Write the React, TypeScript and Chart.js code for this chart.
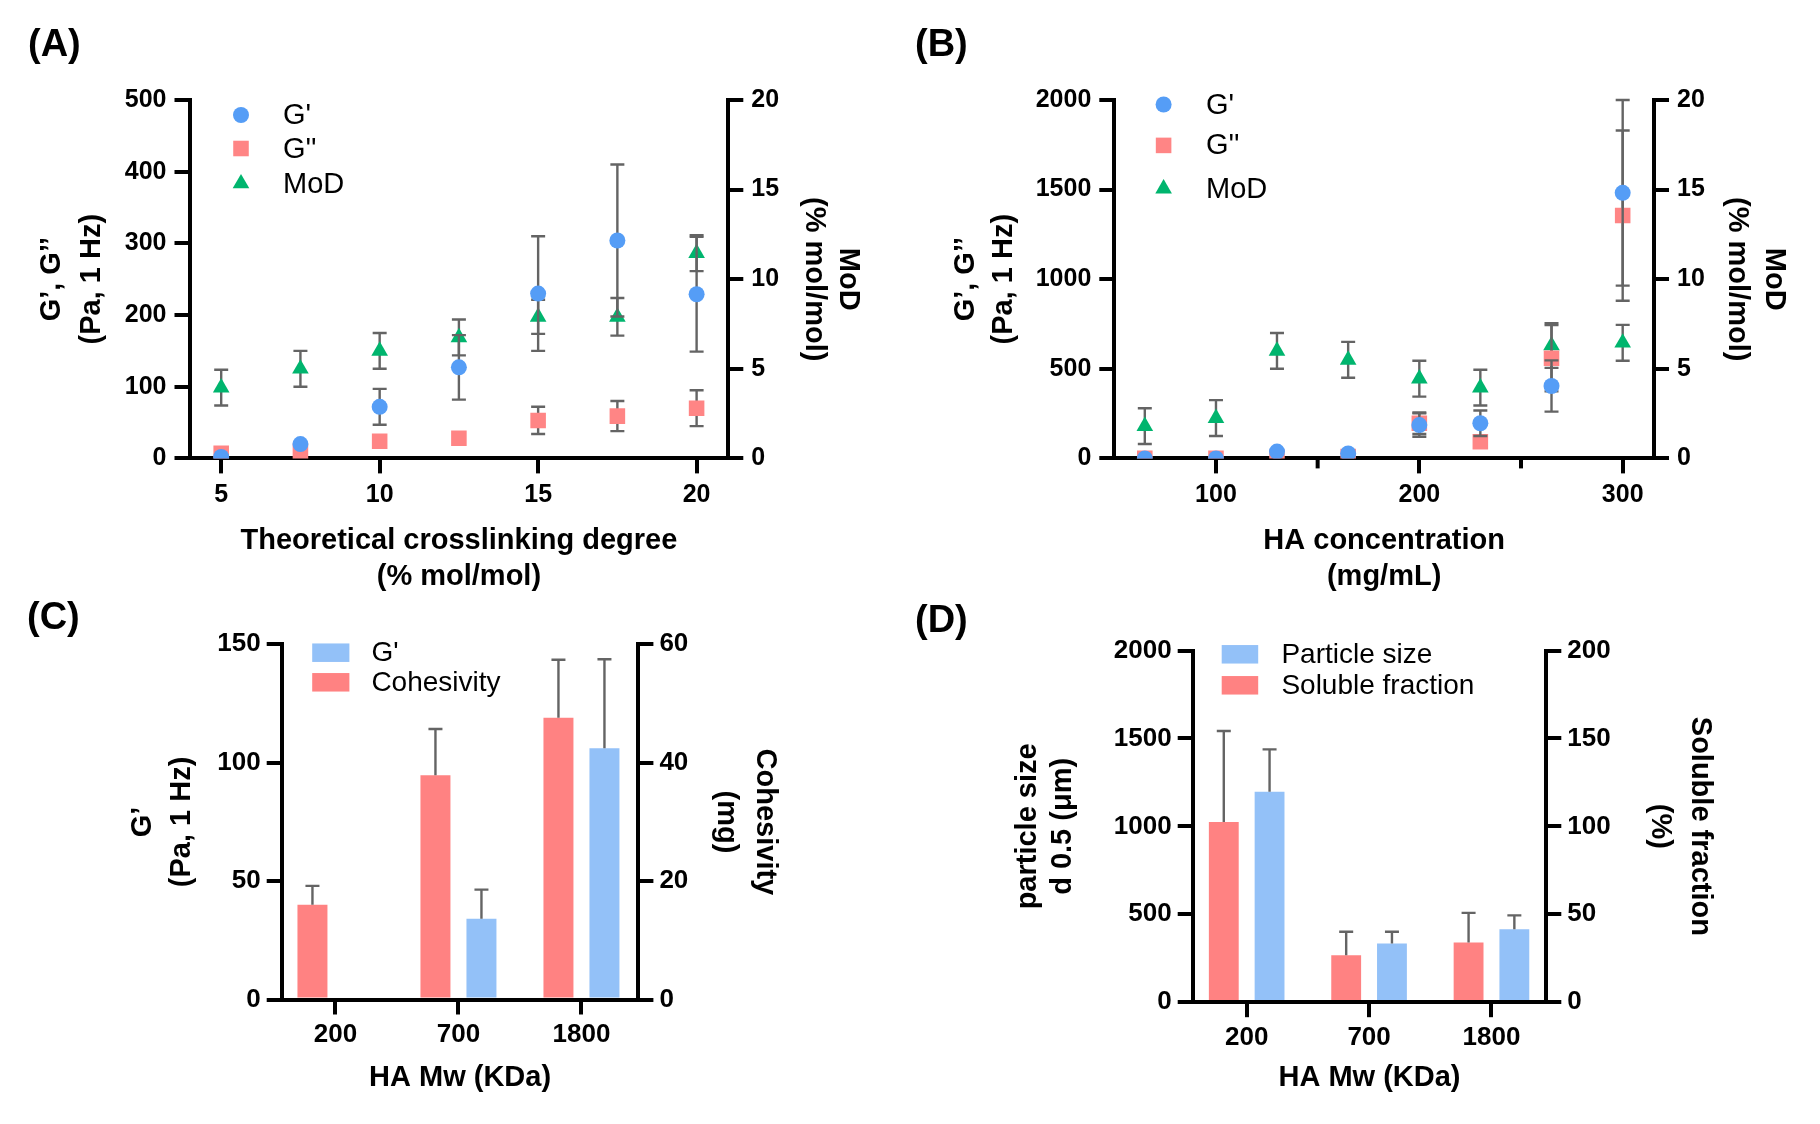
import React, { useEffect, useRef } from 'react';
import { Chart, registerables } from 'chart.js';

Chart.register(...registerables);

const FONT = "'Liberation Sans', Arial, Helvetica, sans-serif";
Chart.defaults.font.family = FONT;

// ---------------- Panel A data ----------------
const aCrosslink = [5, 7.5, 10, 12.5, 15, 17.5, 20];
const aXTicks = [5, 10, 15, 20];
const aGPrime = [2, 20, 72, 127, 230, 304, 229];
const aGPrimeSD = [0, 0, 25, 45, 80, 106, 80];
const aGDouble = [7, 10, 24, 28, 53, 59, 70];
const aGDoubleSD = [0, 0, 0, 0, 19, 21, 25];
const aMoD = [3.95, 5.0, 6.0, 6.75, 7.9, 7.9, 11.45];
const aMoDSD = [1.0, 1.0, 1.0, 1.0, 0.95, 1.05, 1.0];

// ---------------- Panel B data ----------------
const bConc = [65, 100, 130, 165, 200, 230, 265, 300];
const bXTicks = [100, 200, 300];
const bXMinorTicks = [150, 250];
const bGPrime = [0, 0, 38, 28, 186, 196, 404, 1482];
const bGPrimeSD = [0, 0, 0, 0, 65, 71, 143, 518];
const bGDouble = [0, 0, 6, 10, 196, 93, 559, 1355];
const bGDoubleSD = [0, 0, 0, 0, 60, 0, 185, 475];
const bMoD = [1.8, 2.25, 6.0, 5.5, 4.45, 3.95, 6.3, 6.45];
const bMoDSD = [1.0, 1.0, 1.0, 1.0, 1.0, 1.0, 1.25, 1.0];

// ---------------- Panel C data ----------------
const mwLabels = ['200', '700', '1800'];
const cCohesivity = [16.0, 37.9, 47.6];
const cCohesivitySD = [3.2, 7.8, 9.8];
const cGPrime = [0, 34.1, 106.1];
const cGPrimeSD = [0, 12.3, 37.6];

// ---------------- Panel D data ----------------
const dSoluble = [102.5, 26.7, 34.0];
const dSolubleSD = [51.7, 13.4, 16.8];
const dParticle = [1197, 334, 415];
const dParticleSD = [241, 67, 79];

// ---------------- colours ----------------
const BLUE_PT = '#559DF6';
const RED_PT = '#FF8585';
const GREEN_PT = '#00B56E';
const BLUE_BAR = '#93C1F8';
const RED_BAR = '#FF8282';
const ERR = '#646464';

const pts = (xs: number[], ys: number[]) => xs.map((x, i) => ({ x, y: ys[i] }));
const catPts = (ys: number[]) => ys.map((y, i) => ({ x: i, y }));

function drawErr(chart: any, meta: any, ds: any, both: boolean) {
  const ctx = chart.ctx;
  const yScale = chart.scales[meta.yAxisID];
  const cap = 7;
  ctx.save();
  ctx.strokeStyle = ERR;
  ctx.lineWidth = 2.4;
  meta.data.forEach((el: any, i: number) => {
    const v = ds.data[i].y;
    const e = ds.sd[i];
    if (e == null) return;
    if (both && !(e > 0)) return;
    const x = el.x;
    const yTop = yScale.getPixelForValue(v + e);
    const yBot = both ? yScale.getPixelForValue(v - e) : yScale.getPixelForValue(v);
    ctx.beginPath();
    ctx.moveTo(x, yTop);
    ctx.lineTo(x, yBot);
    ctx.moveTo(x - cap, yTop);
    ctx.lineTo(x + cap, yTop);
    if (both) {
      ctx.moveTo(x - cap, yBot);
      ctx.lineTo(x + cap, yBot);
    }
    ctx.stroke();
  });
  ctx.restore();
}

const errorBarPlugin = {
  id: 'errorBars',
  beforeDatasetDraw(chart: any, args: any) {
    const ds: any = chart.data.datasets[args.index];
    if (!ds.sd || ds.sdMode !== 'both') return;
    drawErr(chart, args.meta, ds, true);
  },
  afterDatasetDraw(chart: any, args: any) {
    const ds: any = chart.data.datasets[args.index];
    if (!ds.sd || ds.sdMode !== 'up') return;
    drawErr(chart, args.meta, ds, false);
  },
};
Chart.register(errorBarPlugin as any);

function drawMarker(ctx: any, style: string, x: number, y: number, r: number, color: string) {
  ctx.fillStyle = color;
  ctx.beginPath();
  if (style === 'circle') {
    ctx.arc(x, y, r, 0, Math.PI * 2);
  } else if (style === 'rect') {
    const s = r * Math.SQRT1_2;
    ctx.rect(x - s, y - s, 2 * s, 2 * s);
  } else {
    ctx.moveTo(x, y - r);
    ctx.lineTo(x + r * Math.sin((2 * Math.PI) / 3), y - r * Math.cos((2 * Math.PI) / 3));
    ctx.lineTo(x + r * Math.sin((4 * Math.PI) / 3), y - r * Math.cos((4 * Math.PI) / 3));
    ctx.closePath();
  }
  ctx.fill();
}

function makeLegend(cfg: any) {
  return {
    id: 'panelLegend',
    afterDraw(chart: any) {
      const ctx = chart.ctx;
      ctx.save();
      cfg.order.forEach((dsIdx: number, k: number) => {
        const ds: any = chart.data.datasets[dsIdx];
        const y = cfg.rows[k];
        if (cfg.kind === 'marker') {
          drawMarker(ctx, ds.pointStyle, cfg.x, y, ds.pointRadius, ds.backgroundColor);
        } else {
          ctx.fillStyle = ds.backgroundColor;
          ctx.fillRect(cfg.x, y - cfg.boxH / 2, cfg.boxW, cfg.boxH);
        }
        ctx.fillStyle = '#000';
        ctx.font = `${cfg.size}px ${FONT}`;
        ctx.textBaseline = 'middle';
        ctx.textAlign = 'left';
        ctx.fillText(ds.label, cfg.textX, y + 1);
      });
      ctx.restore();
    },
  };
}

function makeMinorTicks(values: number[], len: number) {
  return {
    id: 'minorTicks',
    afterDraw(chart: any) {
      const sx = chart.scales.x;
      const ctx = chart.ctx;
      ctx.save();
      ctx.strokeStyle = '#000';
      ctx.lineWidth = 4;
      values.forEach((v) => {
        const x = sx.getPixelForValue(v);
        ctx.beginPath();
        ctx.moveTo(x, chart.chartArea.bottom);
        ctx.lineTo(x, chart.chartArea.bottom + len);
        ctx.stroke();
      });
      ctx.restore();
    },
  };
}

function linAxis(o: any) {
  const axis: any = {
    type: 'linear',
    position: o.position,
    min: o.min,
    max: o.max,
    offset: false,
    afterFit: (s: any) => {
      if (o.position === 'bottom') s.height = o.size;
      else s.width = o.size;
    },
    border: { display: true, color: '#000', width: 4, z: o.borderZ || 0 },
    grid: {
      display: true,
      drawOnChartArea: false,
      drawTicks: true,
      tickLength: 15,
      lineWidth: 4,
      tickWidth: 4,
      color: '#000',
      tickColor: '#000',
      offset: false,
    },
    ticks: {
      color: '#000',
      padding: o.pad,
      autoSkip: false,
      maxRotation: 0,
      minRotation: 0,
      font: { family: FONT, size: o.fontSize, weight: 'bold' },
      callback: o.callback || ((v: any) => String(v)),
    },
    title: {
      display: true,
      text: o.title,
      color: '#000',
      font: { family: FONT, size: 29, weight: 'bold', lineHeight: o.lh + 'px' },
      padding: o.position === 'bottom' ? { top: 0, bottom: o.tp } : { top: o.tp, bottom: 0 },
    },
  };
  if (o.step) axis.ticks.stepSize = o.step;
  if (o.tickValues) {
    axis.afterBuildTicks = (ax: any) => {
      ax.ticks = o.tickValues.map((v: number) => ({ value: v }));
    };
  }
  return axis;
}

const baseOptions = (padTop: number) => ({
  responsive: false,
  animation: false,
  events: [],
  layout: { padding: { top: padTop, left: 0, right: 0, bottom: 0 } },
  plugins: { legend: { display: false }, tooltip: { enabled: false } },
});

function scatterSet(label: string, xs: number[], ys: number[], sd: number[], axis: string, style: string, r: number, color: string) {
  return {
    label,
    data: pts(xs, ys),
    sd,
    sdMode: 'both',
    yAxisID: axis,
    pointStyle: style,
    pointRadius: r,
    pointBorderWidth: 0,
    backgroundColor: color,
    borderColor: color,
    borderWidth: 0,
    showLine: false,
  };
}

const R_CIRCLE = 8;
const R_RECT = 11;
const R_TRI = 9.6;

function buildA() {
  return {
    type: 'scatter',
    data: {
      datasets: [
        scatterSet("G'", aCrosslink, aGPrime, aGPrimeSD, 'y', 'circle', R_CIRCLE, BLUE_PT),
        scatterSet("G''", aCrosslink, aGDouble, aGDoubleSD, 'y', 'rect', R_RECT, RED_PT),
        scatterSet('MoD', aCrosslink, aMoD, aMoDSD, 'y1', 'triangle', R_TRI, GREEN_PT),
      ],
    },
    options: {
      ...baseOptions(100),
      scales: {
        x: linAxis({ position: 'bottom', min: 4, max: 21, size: 141.6, tickValues: aXTicks, pad: 7, fontSize: 25, title: ['Theoretical crosslinking degree', '(% mol/mol)'], lh: 36, tp: 5 }),
        y: linAxis({ position: 'left', min: 0, max: 500, step: 100, size: 189.5, pad: 8, fontSize: 25, title: ['G\u2019, G\u2019\u2019', '(Pa, 1 Hz)'], lh: 40, tp: 32.4 }),
        y1: linAxis({ position: 'right', min: 0, max: 20, step: 5, size: 181.7, pad: 8, fontSize: 25, title: ['MoD', '(% mol/mol)'], lh: 34, tp: 45.4 }),
      },
    },
    plugins: [makeLegend({ kind: 'marker', order: [0, 1, 2], x: 241, rows: [115, 148.5, 183.5], textX: 283, size: 29 })],
  };
}

function buildB() {
  return {
    type: 'scatter',
    data: {
      datasets: [
        scatterSet("G'", bConc, bGPrime, bGPrimeSD, 'y', 'circle', R_CIRCLE, BLUE_PT),
        scatterSet("G''", bConc, bGDouble, bGDoubleSD, 'y', 'rect', R_RECT, RED_PT),
        scatterSet('MoD', bConc, bMoD, bMoDSD, 'y1', 'triangle', R_TRI, GREEN_PT),
      ],
    },
    options: {
      ...baseOptions(100),
      scales: {
        x: linAxis({ position: 'bottom', min: 50, max: 315.4, size: 141.6, tickValues: bXTicks, pad: 7, fontSize: 25, title: ['HA concentration', '(mg/mL)'], lh: 36, tp: 5 }),
        y: linAxis({ position: 'left', min: 0, max: 2000, step: 500, size: 204.3, pad: 8, fontSize: 25, title: ['G\u2019, G\u2019\u2019', '(Pa, 1 Hz)'], lh: 38, tp: 37 }),
        y1: linAxis({ position: 'right', min: 0, max: 20, step: 5, size: 166, pad: 8, fontSize: 25, title: ['MoD', '(% mol/mol)'], lh: 37, tp: 27.5 }),
      },
    },
    plugins: [
      makeLegend({ kind: 'marker', order: [0, 1, 2], x: 253.6, rows: [104.5, 145.4, 188.7], textX: 296, size: 29 }),
      makeMinorTicks(bXMinorTicks, 10),
    ],
  };
}

function barSet(label: string, ys: number[], sd: number[], axis: string, color: string) {
  return {
    label,
    data: catPts(ys),
    sd,
    sdMode: 'up',
    yAxisID: axis,
    xAxisID: 'x',
    backgroundColor: color,
    borderWidth: 0,
    categoryPercentage: 0.748,
    barPercentage: 0.652,
  };
}

const catCallback = (v: any) => (mwLabels[v] !== undefined ? mwLabels[v] : '');
const catTicks = mwLabels.map((_, i) => i);

function buildC() {
  return {
    type: 'bar',
    data: {
      datasets: [
        barSet('Cohesivity', cCohesivity, cCohesivitySD, 'y1', RED_BAR),
        barSet("G'", cGPrime, cGPrimeSD, 'y', BLUE_BAR),
      ],
    },
    options: {
      ...baseOptions(44.3),
      scales: {
        x: linAxis({ position: 'bottom', min: -0.437, max: 2.463, size: 124.5, tickValues: catTicks, callback: catCallback, pad: 5, fontSize: 26, title: 'HA Mw (KDa)', lh: 36, tp: 28, borderZ: 1 }),
        y: linAxis({ position: 'left', min: 0, max: 150, step: 50, size: 281.7, pad: 6, fontSize: 26, title: ['G\u2019', '(Pa, 1 Hz)'], lh: 39, tp: 123, borderZ: 1 }),
        y1: linAxis({ position: 'right', min: 0, max: 60, step: 20, size: 271.6, pad: 6, fontSize: 26, title: ['Cohesivity', '(mg)'], lh: 38.6, tp: 126, borderZ: 1 }),
      },
    },
    plugins: [makeLegend({ kind: 'box', order: [1, 0], x: 312.2, rows: [52.7, 82.3], boxW: 37.2, boxH: 18.5, textX: 371.4, size: 28 })],
  };
}

function buildD() {
  return {
    type: 'bar',
    data: {
      datasets: [
        barSet('Soluble fraction', dSoluble, dSolubleSD, 'y1', RED_BAR),
        barSet('Particle size', dParticle, dParticleSD, 'y', BLUE_BAR),
      ],
    },
    options: {
      ...baseOptions(50.5),
      scales: {
        x: linAxis({ position: 'bottom', min: -0.441, max: 2.448, size: 121.8, tickValues: catTicks, callback: catCallback, pad: 5, fontSize: 26, title: 'HA Mw (KDa)', lh: 36, tp: 28, borderZ: 1 }),
        y: linAxis({ position: 'left', min: 0, max: 2000, step: 500, size: 282.7, pad: 6, fontSize: 26, title: ['particle size', 'd 0.5 (\u03BCm)'], lh: 35, tp: 100.8, borderZ: 1 }),
        y1: linAxis({ position: 'right', min: 0, max: 200, step: 50, size: 273.7, pad: 6, fontSize: 26, title: ['Soluble fraction', '(%)'], lh: 40, tp: 100, borderZ: 1 }),
      },
    },
    plugins: [makeLegend({ kind: 'box', order: [1, 0], x: 311.7, rows: [54.3, 85.3], boxW: 36.5, boxH: 18.5, textX: 371.4, size: 28 })],
  };
}

function ChartPanel({ left, top, width, height, build }: { left: number; top: number; width: number; height: number; build: () => any }) {
  const ref = useRef<HTMLCanvasElement>(null);
  useEffect(() => {
    if (!ref.current) return;
    const chart = new Chart(ref.current, build());
    return () => chart.destroy();
  }, []);
  return (
    <canvas
      ref={ref}
      width={width}
      height={height}
      style={{ position: 'absolute', left, top, width, height, display: 'block' }}
    />
  );
}

const labelStyle = (left: number, top: number): React.CSSProperties => ({
  position: 'absolute',
  left,
  top,
  font: `bold 38px ${FONT}`,
  lineHeight: 1,
  color: '#000',
});

export default function App() {
  return (
    <div style={{ position: 'fixed', left: 0, top: 0, width: 1820, height: 1124, background: '#fff', overflow: 'hidden' }}>
      <ChartPanel left={0} top={0} width={910} height={600} build={buildA} />
      <ChartPanel left={910} top={0} width={910} height={600} build={buildB} />
      <ChartPanel left={0} top={600} width={910} height={524} build={buildC} />
      <ChartPanel left={910} top={600} width={910} height={524} build={buildD} />
      <div style={labelStyle(28, 24)}>(A)</div>
      <div style={labelStyle(915, 24)}>(B)</div>
      <div style={labelStyle(27, 597)}>(C)</div>
      <div style={labelStyle(915, 600)}>(D)</div>
    </div>
  );
}
